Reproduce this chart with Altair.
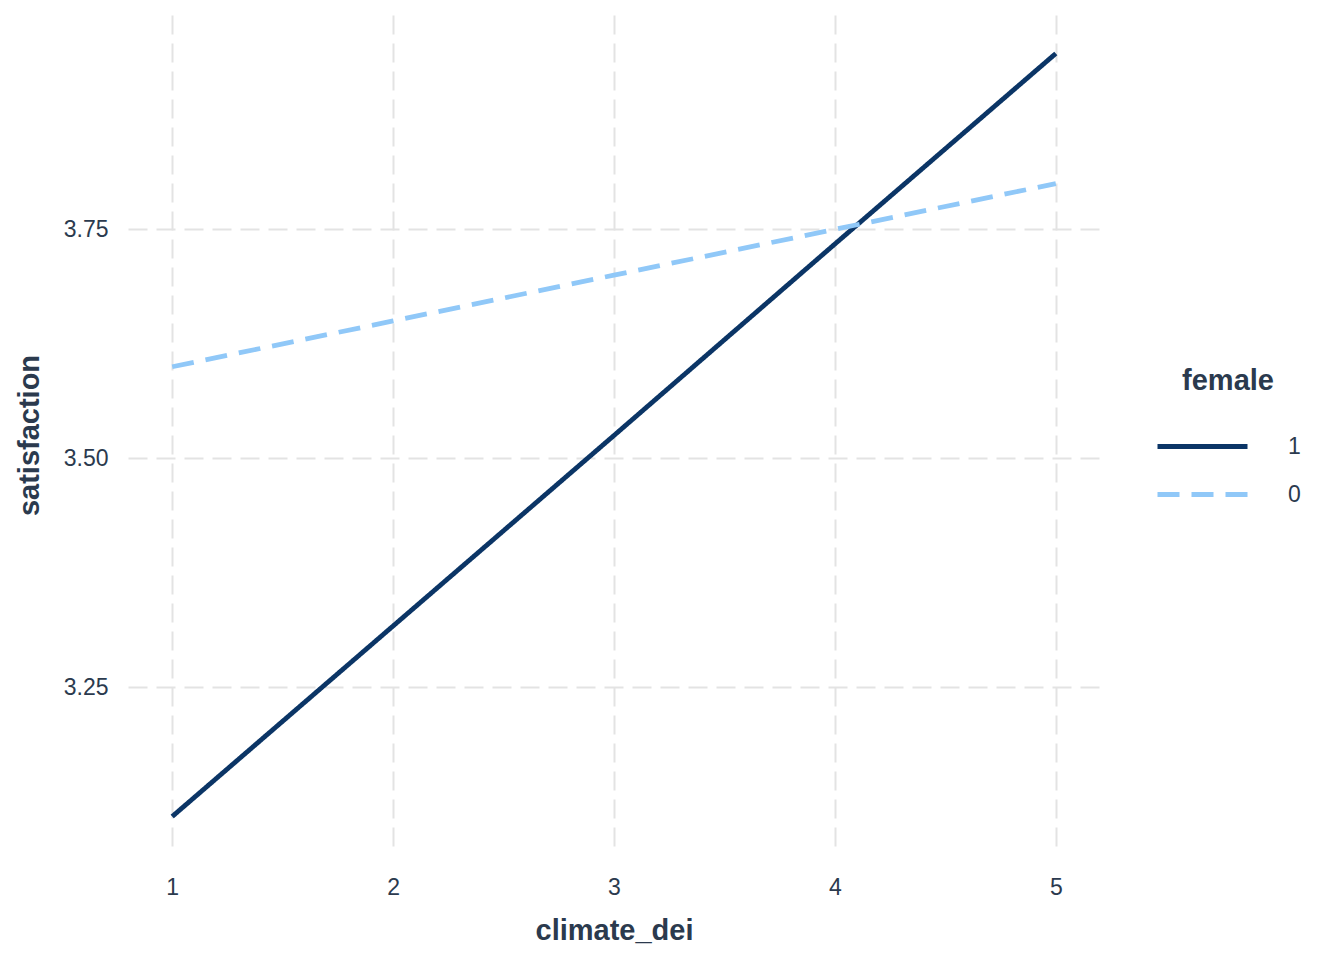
import altair as alt
import pandas as pd

climate_dei = [1, 2, 3, 4, 5]
sat_female_1 = [3.109, 3.317, 3.525, 3.734, 3.942]
sat_female_0 = [3.600, 3.650, 3.700, 3.750, 3.800]
groups = ["1", "0"]

rows = []
for x, y in zip(climate_dei, sat_female_1):
    rows.append({"climate_dei": x, "satisfaction": y, "female": "1"})
for x, y in zip(climate_dei, sat_female_0):
    rows.append({"climate_dei": x, "satisfaction": y, "female": "0"})
df = pd.DataFrame(rows)

TEXT = "#2B3A4E"
FONT = "Liberation Sans"

chart = alt.Chart(df).mark_line(strokeWidth=4.8, strokeCap="butt").encode(
    x=alt.X("climate_dei:Q",
            scale=alt.Scale(domain=[0.8, 5.2], nice=False, zero=False),
            axis=alt.Axis(values=climate_dei, format="d", title="climate_dei")),
    y=alt.Y("satisfaction:Q",
            scale=alt.Scale(domain=[3.067, 3.984], nice=False, zero=False),
            axis=alt.Axis(values=[3.25, 3.5, 3.75], format=".2f", title="satisfaction")),
    color=alt.Color("female:N",
                    scale=alt.Scale(domain=groups, range=["#0B3566", "#90C8F8"]),
                    legend=alt.Legend(title="female")),
    strokeDash=alt.StrokeDash("female:N",
                              scale=alt.Scale(domain=groups, range=[[1, 0], [22, 12]]),
                              legend=alt.Legend(title="female")),
    detail="female:N",
).properties(
    width=972,
    height=840,
    padding={"left": 7, "top": 7, "right": 5, "bottom": 5},
).configure_view(
    stroke=None
).configure_axis(
    domain=False,
    ticks=False,
    grid=True,
    gridColor="#E3E3E3",
    gridWidth=2,
    gridDash=[19, 9],
    labelFont=FONT,
    labelFontSize=23,
    labelColor=TEXT,
    titleFont=FONT,
    titleFontSize=29,
    titleFontWeight="bold",
    titleColor=TEXT,
).configure_axisX(
    labelPadding=21,
    titlePadding=17,
).configure_axisY(
    labelPadding=20,
    titlePadding=19,
).configure_legend(
    orient="none",
    legendX=1027,
    legendY=352,
    titleFont=FONT,
    titleFontSize=29,
    titleFontWeight="bold",
    titleColor=TEXT,
    titleAnchor="middle",
    titlePadding=33,
    labelFont=FONT,
    labelFontSize=23,
    labelColor=TEXT,
    labelOffset=98,
    symbolType="M-1,0H5",
    symbolSize=900,
    symbolStrokeWidth=4.8,
    rowPadding=18,
)

chart.save("out.html", embed_options={"renderer": "svg", "actions": False})
